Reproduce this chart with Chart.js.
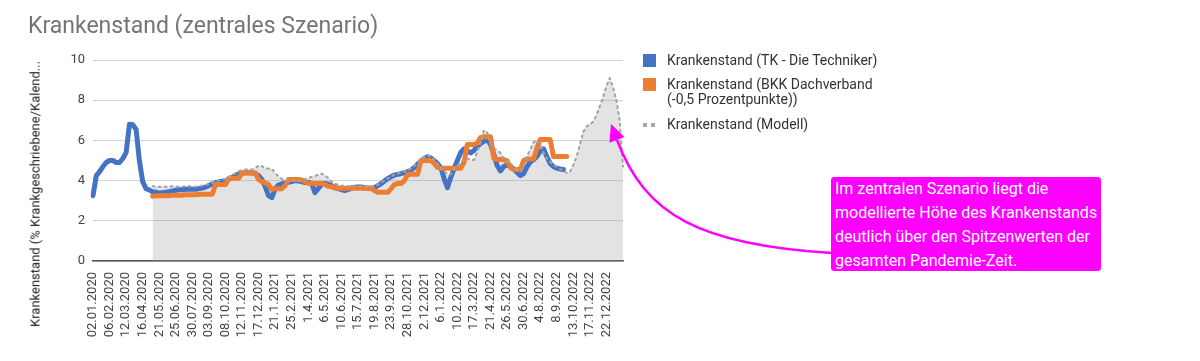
<!DOCTYPE html>
<html>
<head>
<meta charset="utf-8">
<script src="https://cdn.jsdelivr.net/npm/chart.js@4.4.1/dist/chart.umd.min.js"></script>
<style>
  html, body { margin: 0; padding: 0; background: #fff; }
  #wrap { position: relative; width: 1200px; height: 361px; overflow: hidden; font-family: Roboto, "Noto Sans", sans-serif; }
  #chart { position: absolute; left: 0; top: 0; }
  #title { position: absolute; left: 28px; top: 12px; font-size: 23px; color: #757575; white-space: nowrap; }
  #ytitle { position: absolute; left: 35px; top: 194px; transform: translate(-50%, -50%) rotate(-90deg); font-size: 13px; color: #222; white-space: nowrap; }
  #legend { position: absolute; left: 643px; top: 53px; font-size: 14px; color: #333; line-height: 15px; }
  .item { position: relative; padding-left: 24px; margin-bottom: 9px; white-space: nowrap; }
  .sw { position: absolute; left: 0; top: 1px; width: 13px; height: 13px; }
  .dots { position: absolute; left: 0; top: 6px; width: 13px; height: 4px; }
  .dots i { position: absolute; top: 0; width: 4px; height: 4px; background: #a8a8a8; }
  #note { position: absolute; left: 831px; top: 177px; width: 266px; height: 94px; padding-left: 4px; background: #ff00ff; border-radius: 3px; color: #fff; font-size: 16px; line-height: 24px; }
</style>
</head>
<body>
<div id="wrap">
  <canvas id="chart" width="1200" height="361"></canvas>
  <div id="title">Krankenstand (zentrales Szenario)</div>
  <div id="ytitle">Krankenstand (% Krankgeschriebene/Kalend...</div>
  <div id="legend">
    <div class="item"><span class="sw" style="background:#4472c4"></span>Krankenstand (TK - Die Techniker)</div>
    <div class="item" style="margin-bottom:10px"><span class="sw" style="background:#ed7d31"></span>Krankenstand (BKK Dachverband<br>(-0,5 Prozentpunkte))</div>
    <div class="item"><span class="dots"><i style="left:0"></i><i style="left:8px"></i></span>Krankenstand (Modell)</div>
  </div>
  <div id="note">Im zentralen Szenario liegt die modellierte Höhe des Krankenstands deutlich über den Spitzenwerten der gesamten Pandemie-Zeit.</div>
</div>
<script>
// weekly points, 02.01.2020 .. 12.01.2023; a tick label every 5 weeks
const tickLabels = ['02.01.2020', '06.02.2020', '12.03.2020', '16.04.2020', '21.05.2020', '25.06.2020',
  '30.07.2020', '03.09.2020', '08.10.2020', '12.11.2020', '17.12.2020', '21.1.2021', '25.2.2021',
  '1.4.2021', '6.5.2021', '10.6.2021', '15.7.2021', '19.8.2021', '23.9.2021', '28.10.2021',
  '2.12.2021', '6.1.2022', '10.2.2022', '17.3.2022', '21.4.2022', '26.5.2022', '30.6.2022',
  '4.8.2022', '8.9.2022', '13.10.2022', '17.11.2022', '22.12.2022'];
const nWeeks = 161;

// TK - Die Techniker (weeks 0..142)
const tk = [
  3.25, 4.25, 4.45, 4.7, 4.9, 5.0, 5.0, 4.9, 4.9, 5.1,
  5.4, 6.8, 6.78, 6.55, 5.0, 3.95, 3.6, 3.53, 3.45, 3.42,
  3.38, 3.4, 3.42, 3.45, 3.48, 3.52, 3.54, 3.55, 3.57, 3.57,
  3.57, 3.57, 3.6, 3.63, 3.68, 3.75, 3.84, 3.9, 3.94, 3.97,
  4.0, 4.05, 4.17, 4.25, 4.33, 4.37, 4.39, 4.39, 4.39, 4.35,
  4.25, 4.05, 3.7, 3.25, 3.15, 3.6, 3.78, 3.84, 3.88, 3.92,
  3.95, 4.0, 3.98, 3.95, 3.9, 3.92, 3.85, 3.4, 3.6, 3.82,
  3.86, 3.82, 3.75, 3.66, 3.6, 3.55, 3.5, 3.55, 3.63, 3.67,
  3.68, 3.68, 3.65, 3.62, 3.63, 3.65, 3.75, 3.85, 3.98, 4.1,
  4.2, 4.27, 4.31, 4.35, 4.4, 4.44, 4.52, 4.65, 4.82, 4.97,
  5.1, 5.19, 5.12, 5.0, 4.85, 4.65, 4.1, 3.65, 4.15, 4.6,
  5.0, 5.4, 5.58, 5.47, 5.38, 5.5, 5.7, 5.85, 5.95, 6.05,
  5.8, 5.3, 4.75, 4.48, 4.7, 4.77, 4.72, 4.58, 4.42, 4.25,
  4.35, 4.68, 4.93, 5.04, 5.2, 5.45, 5.58, 5.2, 4.85, 4.7,
  4.62, 4.58, 4.55
];

// BKK Dachverband minus 0.5 pp (weeks 18..143)
const bkkStart = 18;
const bkk = [
  3.22, 3.25, 3.25, 3.25, 3.25, 3.25, 3.27, 3.27, 3.27, 3.27,
  3.3, 3.3, 3.3, 3.3, 3.32, 3.32, 3.32, 3.32, 3.32, 3.8,
  3.8, 3.8, 3.8, 4.12, 4.12, 4.12, 4.12, 4.38, 4.38, 4.38,
  4.38, 4.38, 4.05, 3.95, 3.88, 3.8, 3.57, 3.6, 3.6, 3.6,
  3.75, 4.05, 4.05, 4.05, 4.05, 4.03, 3.95, 3.86, 3.86, 3.86,
  3.86, 3.86, 3.8, 3.72, 3.7, 3.63, 3.62, 3.62, 3.62, 3.62,
  3.62, 3.62, 3.62, 3.62, 3.62, 3.62, 3.62, 3.5, 3.42, 3.42,
  3.42, 3.42, 3.6, 3.8, 3.85, 3.85, 4.0, 4.3, 4.32, 4.32,
  4.32, 5.0, 5.0, 5.0, 5.0, 4.85, 4.65, 4.62, 4.62, 4.62,
  4.62, 4.62, 4.62, 4.62, 4.9, 5.8, 5.8, 5.8, 5.85, 6.15,
  6.18, 6.18, 6.18, 5.1, 5.05, 5.05, 5.05, 4.98, 4.65, 4.55,
  4.55, 4.55, 5.0, 5.08, 5.08, 5.08, 5.6, 6.05, 6.05, 6.05,
  6.05, 5.2, 5.2, 5.2, 5.2, 5.2
];

// Modell (weeks 18..160)
const modelStart = 18;
const modell = [
  3.72, 3.7, 3.7, 3.68, 3.7, 3.7, 3.72, 3.7, 3.7, 3.7,
  3.72, 3.72, 3.7, 3.7, 3.72, 3.75, 3.78, 3.82, 3.9, 3.97,
  4.0, 4.03, 4.08, 4.18, 4.27, 4.37, 4.47, 4.52, 4.55, 4.55,
  4.55, 4.62, 4.75, 4.72, 4.6, 4.6, 4.58, 4.38, 4.2, 4.08,
  4.03, 4.0, 4.0, 4.0, 4.0, 4.0, 4.07, 4.13, 4.18, 4.23,
  4.29, 4.35, 4.27, 4.12, 3.95, 3.84, 3.8, 3.76, 3.72, 3.72,
  3.72, 3.72, 3.72, 3.72, 3.72, 3.72, 3.72, 3.72, 3.8, 3.9,
  4.0, 4.1, 4.2, 4.3, 4.35, 4.4, 4.45, 4.5, 4.6, 4.73,
  4.9, 5.05, 5.17, 5.27, 5.18, 5.05, 4.85, 4.62, 4.45, 4.35,
  4.3, 4.55, 4.75, 4.9, 5.05, 5.1, 5.05, 5.02, 5.45, 5.9,
  6.5, 6.4, 5.85, 5.62, 5.5, 5.38, 5.1, 4.98, 4.88, 4.65,
  4.55, 4.5, 4.7, 5.2, 5.55, 5.9, 6.0, 5.85, 5.4, 5.1,
  4.92, 4.8, 4.68, 4.58, 4.5, 4.38, 4.45, 4.78, 5.2, 5.8,
  6.43, 6.7, 6.8, 6.93, 7.25, 7.7, 8.15, 8.7, 9.1, 8.65,
  8.0, 7.0, 4.7
];

function padSeries(values, start) {
  const out = new Array(nWeeks).fill(null);
  values.forEach((v, i) => { out[start + i] = v; });
  return out;
}

const categories = [];
for (let i = 0; i < nWeeks; i++) {
  categories.push(i % 5 === 0 && tickLabels[i / 5] ? tickLabels[i / 5] : '');
}

const arrowPlugin = {
  id: 'noteArrow',
  afterDraw(chart) {
    const c = chart.ctx;
    c.save();
    c.strokeStyle = '#ff00ff';
    c.fillStyle = '#ff00ff';
    c.lineWidth = 2.5;
    c.beginPath();
    c.moveTo(832, 253);
    c.bezierCurveTo(700, 245, 645, 215, 617, 140);
    c.stroke();
    // arrow head
    const tipX = 611, tipY = 124;
    const ang = Math.atan2(124 - 215, 611 - 645);
    const len = 17, w = 8;
    c.beginPath();
    c.moveTo(tipX, tipY);
    c.lineTo(tipX - len * Math.cos(ang) + w * Math.sin(ang), tipY - len * Math.sin(ang) - w * Math.cos(ang));
    c.lineTo(tipX - len * Math.cos(ang) - w * Math.sin(ang), tipY - len * Math.sin(ang) + w * Math.cos(ang));
    c.closePath();
    c.fill();
    c.restore();
  }
};

const tickFont = { family: 'Roboto', size: 13 };

new Chart(document.getElementById('chart').getContext('2d'), {
  type: 'line',
  data: {
    labels: categories,
    datasets: [
      {
        label: 'Krankenstand (TK - Die Techniker)',
        data: padSeries(tk, 0),
        borderColor: '#4472c4',
        borderWidth: 5,
        order: 2
      },
      {
        label: 'Krankenstand (BKK Dachverband (-0,5 Prozentpunkte))',
        data: padSeries(bkk, bkkStart),
        borderColor: '#ed7d31',
        borderWidth: 5,
        order: 1
      },
      {
        label: 'Krankenstand (Modell)',
        data: padSeries(modell, modelStart),
        borderColor: '#a2a2a2',
        borderWidth: 2,
        borderDash: [2, 4],
        fill: 'origin',
        backgroundColor: 'rgba(150,150,150,0.27)',
        order: 0
      }
    ]
  },
  options: {
    responsive: false,
    animation: false,
    devicePixelRatio: 1,
    elements: {
      point: { radius: 0 },
      line: { tension: 0, borderJoinStyle: 'round', borderCapStyle: 'round' }
    },
    layout: { padding: { top: 60, right: 577, left: 0, bottom: 0 } },
    plugins: {
      legend: { display: false },
      tooltip: { enabled: false },
      filler: { drawTime: 'beforeDatasetsDraw' }
    },
    scales: {
      x: {
        grid: { display: false },
        border: { color: '#555', width: 1.5 },
        ticks: { autoSkip: false, maxRotation: 90, minRotation: 90, font: tickFont, color: '#444', padding: 3 },
        afterFit(scale) { scale.height = 100; }
      },
      y: {
        min: 0,
        max: 10,
        ticks: { stepSize: 2, font: tickFont, color: '#444', padding: 8 },
        grid: { color: '#d4d4d4', drawTicks: false },
        border: { display: false },
        afterFit(scale) { scale.width = 93; }
      }
    }
  },
  plugins: [arrowPlugin]
});
</script>
</body>
</html>
